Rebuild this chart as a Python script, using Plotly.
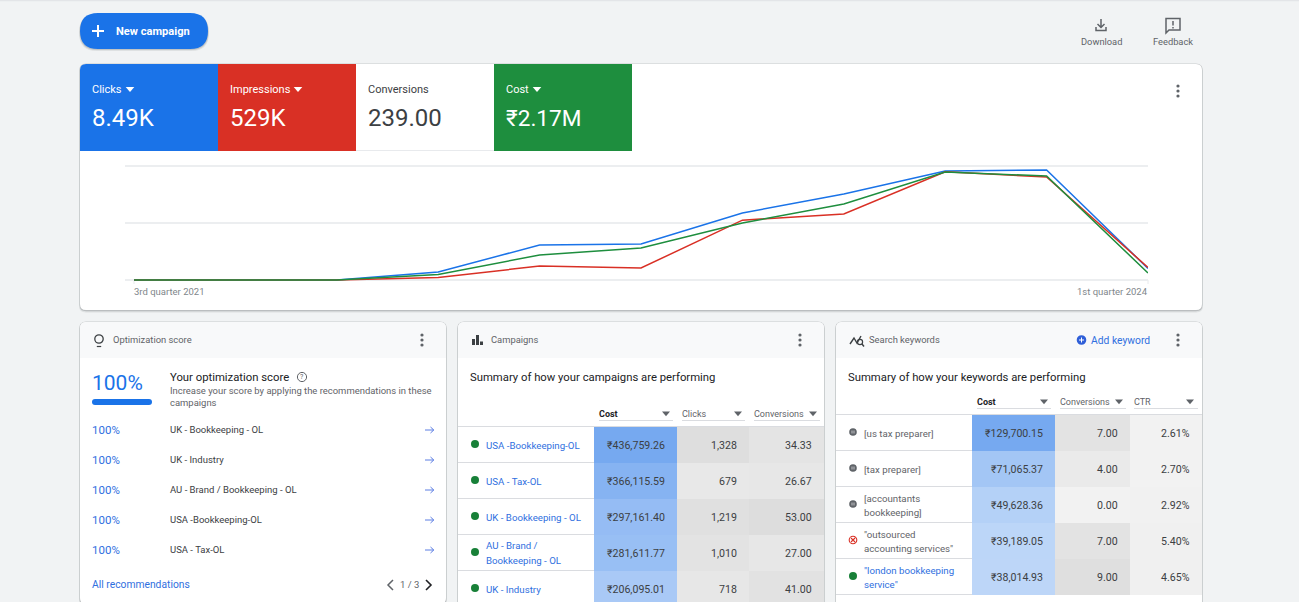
import plotly.graph_objects as go

# ---------- data ----------
QUARTERS = ["3rd quarter 2021", "4th quarter 2021", "1st quarter 2022", "2nd quarter 2022",
            "3rd quarter 2022", "4th quarter 2022", "1st quarter 2023", "2nd quarter 2023",
            "3rd quarter 2023", "4th quarter 2023", "1st quarter 2024"]
CLICKS = [0, 0, 0, 147, 645, 663, 1234, 1584, 2007, 2026, 212]
IMPRESSIONS = [0, 0, 0, 3500, 19600, 16800, 84000, 92600, 152000, 144600, 17500]
COST = [0, 0, 0, 29000, 131600, 168000, 300000, 400000, 568000, 547000, 37000]

SCORECARD_LABELS = ["Clicks", "Impressions", "Conversions", "Cost"]
SCORECARD_VALUES = ["8.49K", "529K", "239.00", "₹2.17M"]

OPT_SCORE = 100
OPT_CAMPAIGNS = ["UK - Bookkeeping - OL", "UK - Industry", "AU - Brand / Bookkeeping - OL",
                 "USA -Bookkeeping-OL", "USA - Tax-OL"]
OPT_SCORES = [100, 100, 100, 100, 100]

CAMP_NAMES = ["USA -Bookkeeping-OL", "USA - Tax-OL", "UK - Bookkeeping - OL",
              "AU - Brand /\nBookkeeping - OL", "UK - Industry"]
CAMP_COST = [436759.26, 366115.59, 297161.40, 281611.77, 206095.01]
CAMP_CLICKS = [1328, 679, 1219, 1010, 718]
CAMP_CONV = [34.33, 26.67, 53.00, 27.00, 41.00]

KW_NAMES = ["[us tax preparer]", "[tax preparer]", "[accountants\nbookkeeping]",
            "\"outsourced\naccounting services\"", "\"london bookkeeping\nservice\""]
KW_STATUS = ["paused", "paused", "paused", "removed", "active"]
KW_COST = [129700.15, 71065.37, 49628.36, 39189.05, 38014.93]
KW_CONV = [7.00, 4.00, 0.00, 7.00, 9.00]
KW_CTR = [2.61, 2.70, 2.92, 5.40, 4.65]

# ---------- style ----------
FONT = "Roboto, Arial, sans-serif"
BLUE, RED, GREEN = "#1a73e8", "#d93025", "#1e8e3e"
DARK, MID, GREY = "#202124", "#3c4043", "#5f6368"
LINK = "#2f6fe0"

shapes, notes, traces = [], [], []


def text(x, y, s, size=10, color=MID, anchor="left", bold=False):
    dx = {"left": -1, "right": 1, "center": 0}[anchor]
    notes.append(dict(x=x+dx, y=y, xref="x", yref="y", text=f"<b>{s}</b>" if bold else s,
                      showarrow=False, xanchor=anchor, yanchor="middle", borderpad=0,
                      font=dict(family=FONT, size=size, color=color)))


def path(d, fill=None, line=None, width=1.0):
    shapes.append(dict(type="path", path=d, xref="x", yref="y", layer="below",
                       fillcolor=fill or "rgba(0,0,0,0)",
                       line=dict(color=line or "rgba(0,0,0,0)", width=width if line else 0)))


def rrect(x0, y0, x1, y1, r=6, fill="#ffffff", tr=None):
    return (f"M{x0+r},{y0} L{x1-r},{y0} Q{x1},{y0} {x1},{y0+r} L{x1},{y1-r} Q{x1},{y1} {x1-r},{y1} "
            f"L{x0+r},{y1} Q{x0},{y1} {x0},{y1-r} L{x0},{y0+r} Q{x0},{y0} {x0+r},{y0} Z")


def rect(x0, y0, x1, y1, fill):
    shapes.append(dict(type="rect", x0=x0, y0=y0, x1=x1, y1=y1, xref="x", yref="y", layer="below",
                       fillcolor=fill, line=dict(width=0)))


def hline(x0, x1, y, color="#dadce0", width=1.0):
    shapes.append(dict(type="line", x0=x0, x1=x1, y0=y, y1=y, xref="x", yref="y", layer="below",
                       line=dict(color=color, width=width)))


def circle(cx, cy, r, fill=None, line=None, width=1.0):
    shapes.append(dict(type="circle", x0=cx-r, x1=cx+r, y0=cy-r, y1=cy+r, xref="x", yref="y",
                       layer="below", fillcolor=fill or "rgba(0,0,0,0)",
                       line=dict(color=line or "rgba(0,0,0,0)", width=width if line else 0)))


def card(x0, y0, x1, y1):
    path(rrect(x0-1, y0, x1+1, y1+2.5, 7), "rgba(60,64,67,0.10)")
    path(rrect(x0-0.5, y0-0.5, x1+0.5, y1+1.2, 6.5), "rgba(60,64,67,0.22)")
    path(rrect(x0, y0, x1, y1, 6), "#ffffff")


def header(x0, x1, y0, y1):
    r = 6
    path(f"M{x0},{y1} L{x0},{y0+r} Q{x0},{y0} {x0+r},{y0} L{x1-r},{y0} Q{x1},{y0} {x1},{y0+r} L{x1},{y1} Z", "#f8f9fa")


def dots(x, y, color=GREY):
    for d in (-5, 0, 5):
        circle(x, y+d, 1.6, color)


def tri(x, y, w=4.5, h=2.6, color="#ffffff"):
    path(f"M{x-w},{y-h} L{x+w},{y-h} L{x},{y+h} Z", color)


# ---------- page chrome ----------
rect(0, 0, 1299, 1.2, "#e3e5e8")

# new-campaign button
path(rrect(79, 14, 209, 51, 18), "rgba(60,64,67,0.10)")
path(rrect(79.5, 14, 208.5, 50, 18), "rgba(60,64,67,0.18)")
path(rrect(80, 13, 208, 49, 18), BLUE)
path("M98,25 L98,37 M92,31 L104,31", line="#ffffff", width=2)
text(116, 31, "New campaign", 11.1, "#ffffff", bold=True)

# download / feedback
path("M1101,19 L1101,27 M1097.5,24 L1101,27.5 L1104.5,24 M1096,27 L1096,30.5 L1106,30.5 L1106,27", line=GREY, width=1.5)
text(1101, 41.5, "Download", 9.3, GREY, "center")
path("M1166,18.5 L1180,18.5 L1180,30 L1169,30 L1166,33 Z", line=GREY, width=1.5)
path("M1173,21 L1173,25.5 M1173,27 L1173,28.5", line=GREY, width=1.5)
text(1172.5, 41.5, "Feedback", 9.3, GREY, "center")

# performance card
card(80, 64, 1202, 310)
tile_fill = [BLUE, RED, "#ffffff", GREEN]
tile_fg = ["#ffffff", "#ffffff", MID, "#ffffff"]
tile_x = [80, 218, 356, 494]
tile_arrow = [130, 298, None, 537]
tile_size = [24, 24, 24, 22.6]
for lab, val, fill, fg, x, ax, fs in zip(SCORECARD_LABELS, SCORECARD_VALUES, tile_fill, tile_fg, tile_x, tile_arrow, tile_size):
    if fill == "#ffffff":
        hline(x, x+138, 150.5, "#e8eaed", 1.2)
    else:
        r = 6 if x == 80 else 0
        path(f"M{x},151 L{x},{64+r} Q{x},64 {x+r},64 L{x+138},64 L{x+138},151 Z", fill)
    text(x+12, 89, lab, 11, fg)
    text(x+12, 118, val, fs, fg)
    if ax:
        tri(ax, 89.5, 4.3, 2.4)
dots(1178, 91)
for tx in (134, 1148):
    shapes.append(dict(type="line", x0=tx, x1=tx, y0=280, y1=284, xref="x", yref="y", layer="below",
                       line=dict(color="#e8eaed", width=1)))
text(134, 291.5, QUARTERS[0], 9.5, "#80868b")
text(1148, 291.5, QUARTERS[-1], 9.5, "#80868b", "right")

# ---------- optimisation card ----------
card(80, 322, 446, 604)
header(80, 446, 322, 358)
# bulb
circle(99, 339, 4.2, None, MID, 1.3)
path("M96.8,346.5 L101.2,346.5", line=MID, width=1.2)
text(113, 339.5, "Optimization score", 9.4, GREY)
dots(422, 340)
text(92, 383, f"{OPT_SCORE}%", 21, BLUE)
path(rrect(92, 399, 152, 405, 3), BLUE)
text(170, 377, "Your optimization score", 11.3, DARK)
circle(302, 377, 4.6, None, GREY, 1)
text(302, 377, "?", 7, GREY, "center")
text(170, 390.5, "Increase your score by applying the recommendations in these", 9.45, GREY)
text(170, 402.5, "campaigns", 9.45, GREY)
for i, (n, s) in enumerate(zip(OPT_CAMPAIGNS, OPT_SCORES)):
    y = 430 + 30*i
    text(92, y, f"{s}%", 11.5, LINK)
    text(170, y-0.5, n, 9.5, MID)
    path(f"M425,{y} L433.5,{y} M430.5,{y-3} L433.8,{y} L430.5,{y+3}", line="#4a6fe0", width=0.9)
text(92, 584.5, "All recommendations", 10.3, LINK)
path("M393,580 L388,585 L393,590", line=GREY, width=1.5)
text(409.5, 584.5, "1 / 3", 9.5, GREY, "center")
path("M426,580 L431,585 L426,590", line=DARK, width=1.6)


def cell_column(values, x0, x1, y0, row_h, low, high, vmin=0, vmax=None):
    traces.append(go.Heatmap(
        z=[[v] for v in values], x=[x0, x1], y=[y0 + row_h*i for i in range(len(values)+1)],
        zmin=vmin, zmax=vmax if vmax is not None else max(values),
        colorscale=[[0, low], [1, high]], showscale=False, hoverinfo="skip", xaxis="x", yaxis="y"))


def col_head(label, x0, x1, y, tx, bold=False):
    text(x0, y, label, 9, DARK if bold else GREY, bold=bold)
    hline(x0, x1, y+7, "#dadce0", 1)
    tri(tx, y+0.3, 4.0, 2.4, GREY)


ROW_H = 36
STATUS_COLOR = "#188038"

# ---------- campaigns card ----------
card(458, 322, 824, 640)
header(458, 824, 322, 358)
for bx, h in ((473.5, 6), (477.5, 10), (481.5, 3.5)):
    rect(bx-1.5, 345-h, bx+1.5, 345, MID)
text(491, 339.5, "Campaigns", 9.4, GREY)
dots(800, 340)
text(470, 377, "Summary of how your campaigns are performing", 11.3, DARK)
col_head("Cost", 599, 673, 413.5, 666, True)
col_head("Clicks", 682, 745, 413.5, 738)
col_head("Conversions", 754, 820, 413.5, 813)
C_Y = 427
hline(458, 824, C_Y-0.5)
cell_column(CAMP_COST, 594, 677, C_Y, ROW_H, "#d7e6fb", "#76a9f0")
cell_column(CAMP_CLICKS, 677, 749, C_Y, ROW_H, "#f2f2f2", "#dedede")
cell_column(CAMP_CONV, 749, 824, C_Y, ROW_H, "#f2f2f2", "#dddddd")
for i, n in enumerate(CAMP_NAMES):
    yc = C_Y + ROW_H*i + 18
    hline(458, 594, C_Y + ROW_H*(i+1) - 0.5)
    circle(475, yc-1, 4, STATUS_COLOR)
    parts = n.split("\n")
    for j, p in enumerate(parts):
        text(486, yc + (j - (len(parts)-1)/2)*14.5, p, 9.7, LINK)
    text(665, yc, f"₹{CAMP_COST[i]:,.2f}", 10.6, MID, "right")
    text(737, yc, f"{CAMP_CLICKS[i]:,}", 10.6, MID, "right")
    text(812, yc, f"{CAMP_CONV[i]:.2f}", 10.6, MID, "right")

# ---------- keywords card ----------
card(836, 322, 1202, 640)
header(836, 1202, 322, 358)
path("M850,344 L854,338 L857,343 L861,336", line=MID, width=1.4)
circle(860, 342, 2.6, None, MID, 1.2)
path("M862,344 L864,346.5", line=MID, width=1.4)
text(869, 339.5, "Search keywords", 9.4, GREY)
circle(1081.5, 340, 4.8, "#2f5fd8")
path("M1081.5,337.5 L1081.5,342.5 M1079,340 L1084,340", line="#ffffff", width=1)
text(1091, 340.5, "Add keyword", 10.3, LINK)
dots(1178, 340)
text(848, 377, "Summary of how your keywords are performing", 11.3, DARK)
col_head("Cost", 977, 1051, 401.5, 1044, True)
col_head("Conversions", 1060, 1126, 401.5, 1119)
col_head("CTR", 1134, 1198, 401.5, 1190)
K_Y = 415
hline(836, 1202, K_Y-0.5)
cell_column(KW_COST, 972, 1055, K_Y, ROW_H, "#dae9fb", "#76a9f0")
cell_column(KW_CONV, 1055, 1130, K_Y, ROW_H, "#f2f2f2", "#dfdfdf")
cell_column(KW_CTR, 1130, 1202, K_Y, ROW_H, "#f3f3f3", "#f0f0f0")
for i, n in enumerate(KW_NAMES):
    yc = K_Y + ROW_H*i + 18
    hline(836, 972, K_Y + ROW_H*(i+1) - 0.5)
    st = KW_STATUS[i]
    if st == "paused":
        circle(853, yc-1, 3.8, "#5f6368")
        path(f"M852,{yc-2.5} L852,{yc+0.5} M854,{yc-2.5} L854,{yc+0.5}", line="#dadce0", width=0.8)
    elif st == "removed":
        circle(853, yc-1, 3.8, "#ffffff", "#d93025", 1.1)
        path(f"M851,{yc-3} L855,{yc+1} M855,{yc-3} L851,{yc+1}", line="#d93025", width=1.1)
    else:
        circle(853, yc-1, 4, STATUS_COLOR)
    parts = n.split("\n")
    for j, p in enumerate(parts):
        text(864, yc + (j - (len(parts)-1)/2)*14, p, 9.7, LINK if st == "active" else GREY)
    text(1043, yc, f"₹{KW_COST[i]:,.2f}", 10.6, MID, "right")
    text(1118, yc, f"{KW_CONV[i]:.2f}", 10.6, MID, "right")
    text(1190, yc, f"{KW_CTR[i]:.2f}%", 10.6, MID, "right")
hline(1055, 1202, K_Y + ROW_H*5 - 0.5)
hline(972, 1055, K_Y + ROW_H*5 - 0.5)

# ---------- line chart ----------
W, H = 1299, 602
PAD = 1.5                 # pixels of slack so the end gridlines are kept
x_dom = [125/W, 1148/W]
y_dom = [1-(280+PAD)/H, 1-(166-PAD)/H]


def y_range(top):
    return [-top*PAD/114, top + top*PAD/114]


line_series = [(CLICKS, BLUE, "y2"), (IMPRESSIONS, RED, "y3"), (COST, GREEN, "y4")]
for vals, col, ya in line_series:
    traces.append(go.Scatter(x=QUARTERS, y=vals, mode="lines", xaxis="x2", yaxis=ya,
                             line=dict(color=col, width=1.5), hoverinfo="skip"))

hidden = dict(visible=False, showgrid=False, zeroline=False, fixedrange=True)
layout = go.Layout(
    width=W, height=H, margin=dict(l=0, r=0, t=0, b=0), showlegend=False,
    paper_bgcolor="#f1f3f4", plot_bgcolor="rgba(0,0,0,0)",
    xaxis=dict(hidden, range=[0, W], domain=[0, 1]),
    yaxis=dict(hidden, range=[H, 0], domain=[0, 1]),
    xaxis2=dict(domain=x_dom, range=[-9/101.4, 10], anchor="y2", type="category",
                categoryorder="array", categoryarray=QUARTERS, showticklabels=False, ticks="",
                showgrid=False, zeroline=False, fixedrange=True, showline=False),
    yaxis2=dict(domain=y_dom, range=y_range(2100), anchor="x2", tickvals=[0, 1050, 2100], showticklabels=False,
                ticks="", showgrid=True, gridcolor="#eceef0", gridwidth=1.3, zeroline=False, fixedrange=True),
    yaxis3=dict(hidden, domain=y_dom, range=y_range(160000), anchor="x2", overlaying="y2"),
    yaxis4=dict(hidden, domain=y_dom, range=y_range(600000), anchor="x2", overlaying="y2"),
    shapes=shapes, annotations=notes,
)
fig = go.Figure(data=traces, layout=layout)
fig.write_html("out.html", config=dict(displayModeBar=False, staticPlot=True),
               post_script="document.body.style.margin='0';document.body.style.overflow='hidden';")
